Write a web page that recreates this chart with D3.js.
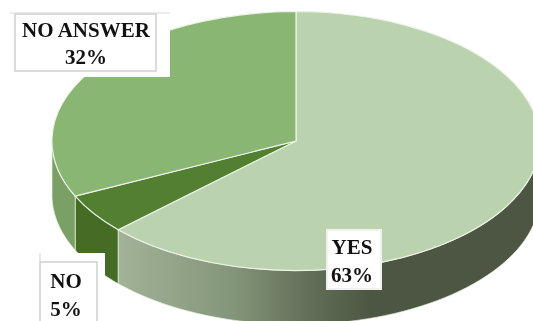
<!DOCTYPE html>
<html>
<head>
<meta charset="utf-8">
<script src="https://cdn.jsdelivr.net/npm/d3@7/dist/d3.min.js"></script>
<style>
html,body{margin:0;padding:0;background:#fff;overflow:hidden}
svg{display:block;filter:blur(0.6px)}
text{font-family:"Liberation Serif",serif;font-weight:700;fill:#111;font-size:21px;text-anchor:middle}
</style>
</head>
<body>
<svg id="c" width="533" height="321"></svg>
<script>
const categories = ["YES", "NO", "NO ANSWER"];
const values = [63, 5, 32];
const topColors = ["#bbd2ae", "#527f30", "#8ab673"];
const wallColors = ["url(#yesWall)", "#456c25", "#7ba065"];

const W = 533, H = 321;
const cx = 296, cy = 141, rx = 244, ry = 129.5, depth = 54;

const svg = d3.select("#c");

const grad = svg.append("defs").append("linearGradient")
  .attr("id", "yesWall").attr("gradientUnits", "userSpaceOnUse")
  .attr("x1", 117).attr("x2", 372).attr("y1", 0).attr("y2", 0);
grad.append("stop").attr("offset", "0%").attr("stop-color", "#a3b298");
grad.append("stop").attr("offset", "45%").attr("stop-color", "#84967a");
grad.append("stop").attr("offset", "75%").attr("stop-color", "#636f58");
grad.append("stop").attr("offset", "100%").attr("stop-color", "#4c5642");

const pie = d3.pie().sort(null).value(d => d);
const arcs = pie(values);

const sx = d3.scaleLinear().domain([-1, 1]).range([cx - rx, cx + rx]);
const sy = d3.scaleLinear().domain([-1, 1]).range([cy - ry, cy + ry]);

function wallPath(a) {
  const from = Math.max(a.startAngle, Math.PI / 2);
  const to = Math.min(a.endAngle, 3 * Math.PI / 2);
  if (to <= from) return null;
  const pts = d3.range(0, 61).map(i => from + (to - from) * i / 60);
  const line = d3.line();
  const top = pts.map(t => [sx(Math.sin(t)), sy(-Math.cos(t))]);
  const bottom = pts.slice().reverse().map(t => [sx(Math.sin(t)), sy(-Math.cos(t)) + depth]);
  return line(top.concat(bottom)) + "Z";
}

svg.selectAll("path.wall").data(arcs).join("path")
  .attr("class", "wall")
  .attr("d", wallPath)
  .attr("fill", (d, i) => wallColors[i])
  .attr("stroke", "#e6eee0")
  .attr("stroke-width", 0.7);

const arc = d3.arc().innerRadius(0).outerRadius(1);
svg.append("g")
  .attr("transform", `translate(${cx},${cy}) scale(${rx},${ry})`)
  .selectAll("path.top").data(arcs).join("path")
  .attr("class", "top")
  .attr("d", arc)
  .attr("fill", (d, i) => topColors[i])
  .attr("stroke", "#eef3ea")
  .attr("stroke-width", 1.2)
  .attr("vector-effect", "non-scaling-stroke");

const labelBoxes = [
  { white: [326, 229, 56, 61], frame: [327, 230, 54, 59], frameColor: "#ededed", lines: [254, 282], mid: 352, edge: null },
  { white: [40, 253, 65, 68], frame: [40, 262, 57, 70], frameColor: "#cfcfcf", lines: [288, 316], mid: 66, edge: [40, 253, 40, 262] },
  { white: [10, 13, 160, 64], frame: [15, 14, 141, 57], frameColor: "#cfcfcf", lines: [37, 64], mid: 86, edge: [10, 13, 170, 13] }
];
[0, 1, 2].forEach(i => {
  const b = labelBoxes[i];
  svg.append("rect").attr("x", b.white[0]).attr("y", b.white[1])
    .attr("width", b.white[2]).attr("height", b.white[3]).attr("fill", "#fff");
  svg.append("rect").attr("x", b.frame[0]).attr("y", b.frame[1])
    .attr("width", b.frame[2]).attr("height", b.frame[3])
    .attr("fill", "none").attr("stroke", b.frameColor).attr("stroke-width", 1.5);
  if (b.edge) {
    svg.append("line").attr("x1", b.edge[0]).attr("y1", b.edge[1])
      .attr("x2", b.edge[2]).attr("y2", b.edge[3])
      .attr("stroke", "#d8d8d8").attr("stroke-width", 1.2);
  }
  svg.append("text").attr("x", b.mid).attr("y", b.lines[0]).text(categories[i]);
  svg.append("text").attr("x", b.mid).attr("y", b.lines[1]).text(values[i] + "%");
});
</script>
</body>
</html>
